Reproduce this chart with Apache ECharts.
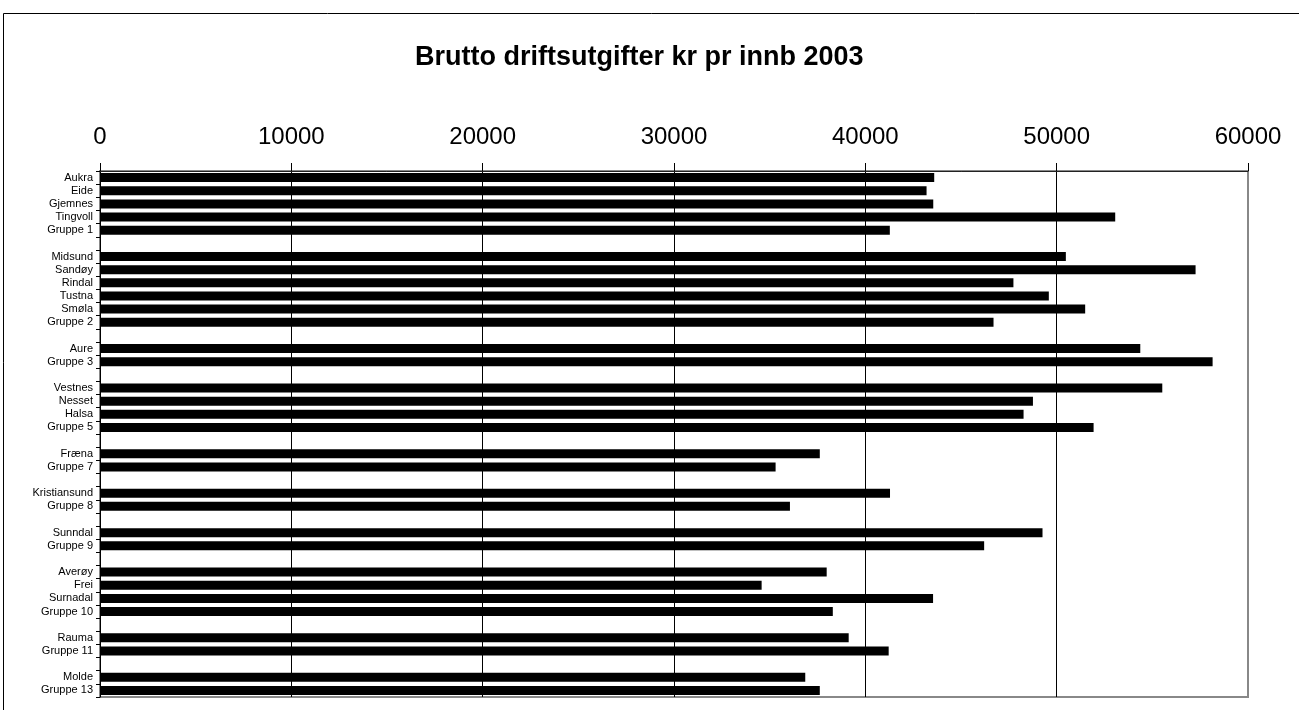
<!DOCTYPE html>
<html>
<head>
<meta charset="utf-8">
<title>Brutto driftsutgifter kr pr innb 2003</title>
<script src="https://cdn.jsdelivr.net/npm/echarts@6/dist/echarts.min.js"></script>
<style>
  html, body { margin: 0; padding: 0; background: #fff; }
  #chart { width: 1299px; height: 710px; }
</style>
</head>
<body>
<div id="chart"></div>
<script>
// kategorier (tomme plasser skiller gruppene)
const kommuner = [
  'Aukra', 'Eide', 'Gjemnes', 'Tingvoll', 'Gruppe 1', '',
  'Midsund', 'Sandøy', 'Rindal', 'Tustna', 'Smøla', 'Gruppe 2', '',
  'Aure', 'Gruppe 3', '',
  'Vestnes', 'Nesset', 'Halsa', 'Gruppe 5', '',
  'Fræna', 'Gruppe 7', '',
  'Kristiansund', 'Gruppe 8', '',
  'Sunndal', 'Gruppe 9', '',
  'Averøy', 'Frei', 'Surnadal', 'Gruppe 10', '',
  'Rauma', 'Gruppe 11', '',
  'Molde', 'Gruppe 13'
]

// kr pr innbygger, lest av figuren
const utgifter = [
  43600, 43200, 43550, 53060, 41280, null,
  50480, 57260, 47740, 49590, 51490, 46700, null,
  54370, 58150, null,
  55520, 48760, 48270, 51930, null,
  37620, 35310, null,
  41290, 36060, null,
  49260, 46210, null,
  37980, 34580, 43540, 38300, null,
  39130, 41220, null,
  36860, 37620
]

const xTicks = [0, 10000, 20000, 30000, 40000, 50000, 60000]

// tomme kategorier må være unike
const yData = kommuner.map((k, i) => (k === '' ? ' '.repeat(i) : k))

const chart = echarts.init(document.getElementById('chart'))
const font = 'Liberation Sans, Arial, Helvetica, sans-serif'

// siste rutenettlinje er grå (plottkanten)
const gridColors = xTicks.map((t, i) => (i === xTicks.length - 1 ? '#888' : '#000'))

const option = {
  backgroundColor: '#fff',
  animation: false,
  textStyle: { fontFamily: font },
  title: {
    text: 'Brutto driftsutgifter kr pr innb 2003',
    left: 410,
    top: 39,
    textStyle: { fontFamily: font, fontSize: 27, fontWeight: 'bold', color: '#000' }
  },
  graphic: [
    {
      type: 'rect',
      shape: { x: 3.5, y: 13.5, width: 1400, height: 800 },
      style: { fill: 'none', stroke: '#000', lineWidth: 1 },
      silent: true,
      z: -1
    }
  ],
  grid: {
    left: 100,
    right: 51,
    top: 171,
    bottom: 13,
    outerBoundsMode: 'none',
    containLabel: false,
    show: true,
    borderColor: '#888',
    borderWidth: 2
  },
  xAxis: {
    type: 'value',
    position: 'top',
    min: xTicks[0],
    max: xTicks[xTicks.length - 1],
    interval: 10000,
    axisLine: { show: true, lineStyle: { color: '#222', width: 1 } },
    axisTick: { show: true, inside: false, length: 8, lineStyle: { color: '#000' } },
    axisLabel: {
      color: '#000',
      fontSize: 24,
      margin: 22,
      fontFamily: font,
      formatter: v => String(v)
    },
    splitLine: { show: true, lineStyle: { color: gridColors, width: 1 } }
  },
  yAxis: {
    type: 'category',
    inverse: true,
    data: yData,
    axisLine: { show: true, lineStyle: { color: '#000', width: 1 } },
    axisTick: { show: true, length: 4, lineStyle: { color: '#000' } },
    axisLabel: { color: '#000', fontSize: 11, margin: 7, interval: 0, fontFamily: font },
    splitLine: { show: false }
  },
  series: [
    {
      type: 'bar',
      data: utgifter,
      barWidth: 9,
      itemStyle: { color: '#000' }
    }
  ]
}

chart.setOption(option)
</script>
</body>
</html>
